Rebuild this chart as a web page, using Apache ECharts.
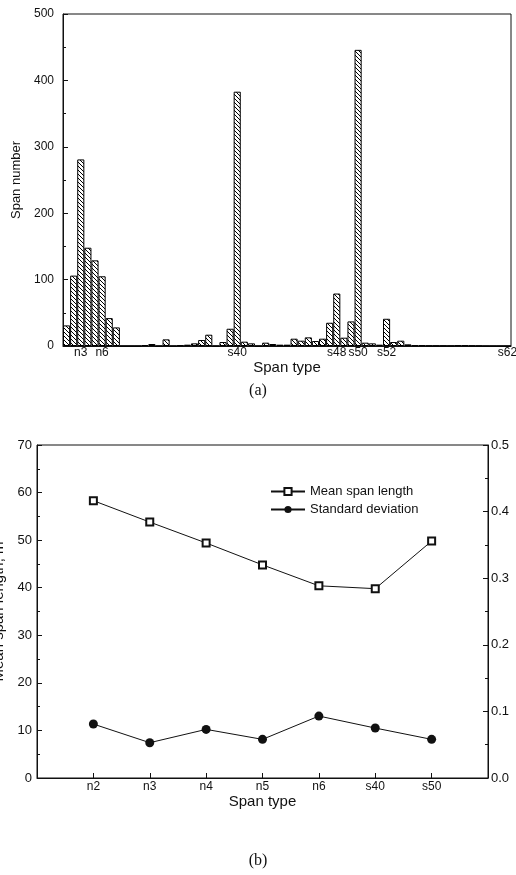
<!DOCTYPE html>
<html>
<head>
<meta charset="utf-8">
<script src="https://cdn.jsdelivr.net/npm/echarts@6/dist/echarts.min.js"></script>
<style>
  html, body { margin: 0; padding: 0; background: #fff; }
  #chart { width: 516px; height: 875px; }
</style>
</head>
<body>
<div id="chart"></div>
<script>
// (a) number of spans for each span type (63 bars, left to right)
const spanCountA = [
  31, 106, 281, 148, 129, 105, 42, 28, 0, 0,
  0, 1.5, 3, 0, 10, 0, 1, 2, 4, 9,
  17, 0, 6, 26, 383, 6.5, 4, 0, 5, 3,
  2, 2, 11, 8, 13, 7.5, 11, 35, 79, 12.5,
  37, 446, 5, 4, 2, 41, 6, 8, 2.5, 1,
  1, 0.5, 0.5, 0.5, 0.3, 1, 1, 0.5, 0.3, 0,
  0, 0, 0
];
const tickIdxA = [2, 5, 24, 38, 41, 45, 62];
const tickTextA = ['n3', 'n6', 's40', 's48', 's50', 's52', 's62'];

// (b) mean span length and its standard deviation
const spanTypesB = ['n2', 'n3', 'n4', 'n5', 'n6', 's40', 's50'];
const meanLenB = [58.3, 53.8, 49.4, 44.8, 40.4, 39.8, 49.8];
const stdDevB = [0.081, 0.053, 0.073, 0.058, 0.093, 0.075, 0.058];

const FONT = 'Liberation Sans';
const INK = '#111';

// diagonal hatching used to fill the bars
function hatch() {
  const c = document.createElement('canvas');
  c.width = 4; c.height = 4;
  const g = c.getContext('2d');
  g.fillStyle = '#fff';
  g.fillRect(0, 0, 4, 4);
  g.strokeStyle = '#000';
  g.lineWidth = 1;
  g.beginPath();
  g.moveTo(-1, -1); g.lineTo(5, 5);
  g.moveTo(-1, 3); g.lineTo(1, 5);
  g.moveTo(3, -1); g.lineTo(5, 1);
  g.stroke();
  return c;
}

const chart = echarts.init(document.getElementById('chart'), null, { renderer: 'canvas' });

const line = { lineStyle: { color: INK, width: 1 } };
const label = (size, extra) => Object.assign({ color: INK, fontFamily: FONT, fontSize: size }, extra);

chart.setOption({
  animation: false,
  backgroundColor: '#fff',
  title: [
    { text: '(a)', left: 'center', top: 378,
      textStyle: { fontFamily: 'Liberation Serif', fontSize: 16, fontWeight: 'normal', color: INK } },
    { text: '(b)', left: 'center', top: 848,
      textStyle: { fontFamily: 'Liberation Serif', fontSize: 16, fontWeight: 'normal', color: INK } }
  ],
  legend: {
    orient: 'vertical',
    left: 265,
    top: 480,
    itemWidth: 34,
    itemHeight: 9,
    itemGap: 5,
    textStyle: label(13),
    data: ['Mean span length', 'Standard deviation']
  },
  grid: [
    { left: 63, top: 14, width: 448, height: 332, show: true, borderColor: INK, borderWidth: 1,
      outerBoundsMode: 'none' },
    { left: 37, top: 445, width: 451, height: 333, show: true, borderColor: INK, borderWidth: 1,
      outerBoundsMode: 'none' }
  ],
  xAxis: [
    {
      gridIndex: 0,
      type: 'category',
      data: spanCountA.map((_, i) => 'c' + i),
      axisLine: line,
      axisTick: { show: false },
      axisLabel: label(12, {
        margin: 1,
        interval: i => tickIdxA.includes(i),
        formatter: (v, i) => {
          const k = tickIdxA.indexOf(i);
          return k < 0 ? '' : tickTextA[k];
        }
      }),
      name: 'Span type',
      nameLocation: 'middle',
      nameGap: 8,
      nameTextStyle: label(15)
    },
    {
      gridIndex: 1,
      type: 'category',
      boundaryGap: false,
      data: ['', ...spanTypesB, ' '],
      axisLine: line,
      axisTick: { show: true, inside: true, length: 5, lineStyle: { color: INK } },
      axisLabel: label(12, { margin: 3, interval: 0 }),
      name: 'Span type',
      nameLocation: 'middle',
      nameGap: 14,
      nameTextStyle: label(15)
    }
  ],
  yAxis: [
    {
      gridIndex: 0,
      type: 'value',
      min: 0, max: 500, interval: 100,
      axisLine: { show: true, lineStyle: { color: INK } },
      axisTick: { show: true, inside: true, length: 5, lineStyle: { color: INK } },
      minorTick: { show: true, splitNumber: 2, length: 3, lineStyle: { color: INK } },
      splitLine: { show: false },
      axisLabel: label(12, { margin: 9 }),
      name: 'Span number',
      nameLocation: 'middle',
      nameGap: 38,
      nameTextStyle: label(13)
    },
    {
      gridIndex: 1,
      type: 'value',
      min: 0, max: 70, interval: 10,
      axisLine: { show: true, lineStyle: { color: INK } },
      axisTick: { show: true, inside: true, length: 5, lineStyle: { color: INK } },
      minorTick: { show: true, splitNumber: 2, length: 3, lineStyle: { color: INK } },
      splitLine: { show: false },
      axisLabel: label(13, { margin: 5 }),
      name: 'Mean span length, m',
      nameLocation: 'middle',
      nameGap: 30,
      nameTextStyle: label(15)
    },
    {
      gridIndex: 1,
      type: 'value',
      position: 'right',
      min: 0, max: 0.5, interval: 0.1,
      axisLine: { show: true, lineStyle: { color: INK } },
      axisTick: { show: true, inside: true, length: 5, lineStyle: { color: INK } },
      minorTick: { show: true, splitNumber: 2, length: 3, lineStyle: { color: INK } },
      splitLine: { show: false },
      axisLabel: label(13, { margin: 3, formatter: v => v.toFixed(1) })
    }
  ],
  series: [
    {
      type: 'bar',
      xAxisIndex: 0,
      yAxisIndex: 0,
      data: spanCountA,
      barCategoryGap: '0%',
      itemStyle: {
        color: { image: hatch(), repeat: 'repeat' },
        borderColor: '#000',
        borderWidth: 1
      }
    },
    {
      name: 'Mean span length',
      type: 'line',
      xAxisIndex: 1,
      yAxisIndex: 1,
      data: spanTypesB.map((t, i) => [t, meanLenB[i]]),
      symbol: 'emptyRect',
      symbolSize: 7,
      itemStyle: { color: INK, borderWidth: 1 },
      lineStyle: { color: INK, width: 1 }
    },
    {
      name: 'Standard deviation',
      type: 'line',
      xAxisIndex: 1,
      yAxisIndex: 2,
      data: spanTypesB.map((t, i) => [t, stdDevB[i]]),
      symbol: 'circle',
      symbolSize: 9,
      itemStyle: { color: INK },
      lineStyle: { color: INK, width: 1 }
    }
  ]
});

window.addEventListener('resize', () => chart.resize());
</script>
</body>
</html>
